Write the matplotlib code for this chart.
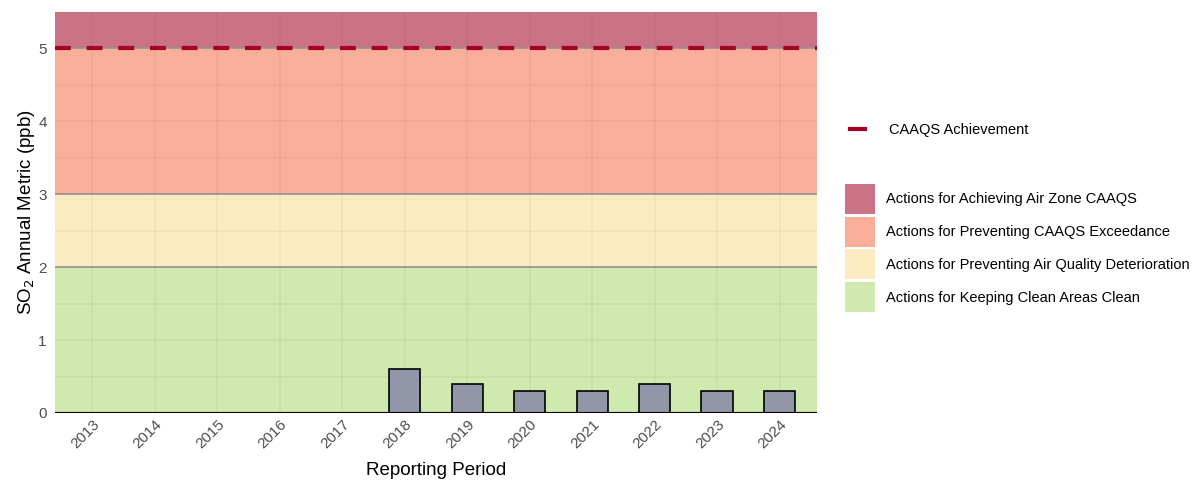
import matplotlib.pyplot as plt
from matplotlib.patches import Patch
from matplotlib.lines import Line2D

plt.rcParams['font.family'] = ['Liberation Sans', 'DejaVu Sans']

years = ['2013', '2014', '2015', '2016', '2017', '2018', '2019', '2020', '2021', '2022', '2023', '2024']
so2 = [None, None, None, None, None, 0.6, 0.4, 0.3, 0.3, 0.4, 0.3, 0.3]

band_lo = [5, 3, 2, 0]
band_hi = [5.5, 5, 3, 2]
band_colors = ['#cc7287', '#f8ae98', '#fcebc1', '#d0e9ae']
band_labels = ['Actions for Achieving Air Zone CAAQS',
               'Actions for Preventing CAAQS Exceedance',
               'Actions for Preventing Air Quality Deterioration',
               'Actions for Keeping Clean Areas Clean']
caaqs = 5

fig = plt.figure(figsize=(12.03, 4.8), dpi=100)
ax = fig.add_axes([55 / 1203, 1 - 413 / 480, (817 - 55) / 1203, (413 - 12) / 480])

for lo, hi, c in zip(band_lo, band_hi, band_colors):
    ax.axhspan(lo, hi, color=c, lw=0, zorder=0)
for lv in [2, 3, 5]:
    ax.axhline(lv, color='#999999', lw=1.2, zorder=1)

x = list(range(len(years)))
for i, v in enumerate(so2):
    if v is not None:
        ax.bar(i, v, width=0.5, color='#9196a8', edgecolor='black', lw=1.2, zorder=3)

ax.axhline(caaqs, color='#a50026', lw=3, dashes=(3.8, 3.8), zorder=4)
ax.axhline(0, color='black', lw=1.5, zorder=4)

ax.set_xlim(-0.6, len(years) - 0.4)
ax.set_ylim(0, 5.5)
ax.set_xticks(x)
ax.set_xticklabels(years, rotation=45, ha='right', rotation_mode='anchor')
ax.set_yticks([0, 1, 2, 3, 4, 5])
ax.set_yticks([0.5, 1.5, 2.5, 3.5, 4.5], minor=True)
ax.tick_params(axis='both', length=0, labelsize=11, labelcolor='#4d4d4d')
ax.tick_params(axis='x', pad=3)
ax.tick_params(axis='y', pad=6)
ax.tick_params(which='minor', length=0)
ax.grid(True, which='both', color='black', alpha=0.035, lw=1.2, zorder=2)
ax.set_axisbelow(False)
for s in ax.spines.values():
    s.set_visible(False)

ax.set_xlabel('Reporting Period', fontsize=13.5, labelpad=8)
ax.set_ylabel('SO$_2$ Annual Metric (ppb)', fontsize=13.5, labelpad=1)

line_handle = [Line2D([0], [0], color='#a50026', lw=3)]
leg1 = fig.legend(line_handle, ['CAAQS Achievement'], loc='center left',
                  bbox_to_anchor=(837 / 1203, 1 - 130 / 480), frameon=False,
                  fontsize=10.5, handlelength=1.0, handletextpad=1.65)
patches = [Patch(facecolor=c, edgecolor='none') for c in band_colors]
leg2 = fig.legend(patches, band_labels, loc='center left',
                  bbox_to_anchor=(832 / 1203, 1 - 248 / 480), frameon=False,
                  fontsize=10.5, handlelength=2.05, handleheight=2.79,
                  labelspacing=0.2, handletextpad=0.75)

fig.savefig('out.png', dpi=100)
